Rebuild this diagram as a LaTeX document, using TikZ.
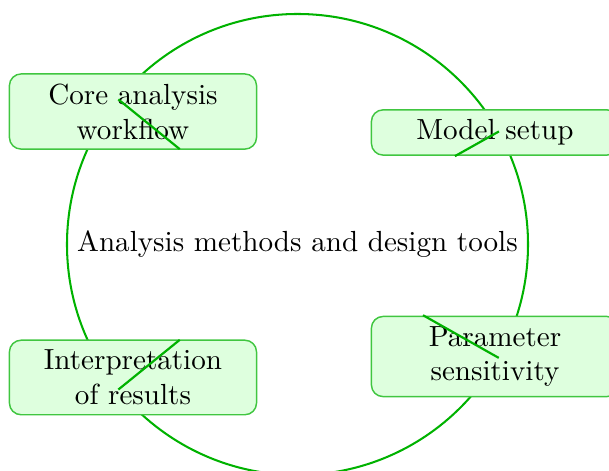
\documentclass[tikz,border=0pt]{standalone}
\begin{document}
\begin{tikzpicture}[
  ring/.style={line width=0.7pt,color=green!70!black},
  stage/.style={draw=green!70!black!75,fill=green!13,rounded corners=4pt,line width=0.5pt,text width=2.75cm,align=center},
  spoke/.style={line width=0.75pt,color=green!70!black}]
\useasboundingbox (-3.593,-2.735) rectangle (3.762,2.953);
\draw [ring] (0,0) circle (2.784);
\node (hub) at (0,0) {Analysis methods and design tools};
\node [stage] (core) at (-1.987,1.606) {Core analysis workflow};
\node [stage] (setup) at (2.385,1.353) {Model setup};
\node [stage] (sens) at (2.385,-1.353) {Parameter sensitivity};
\node [stage] (interp) at (-1.987,-1.606) {Interpretation of results};
% spokes from the ring inwards
\coordinate (rcore) at (141:2.784);
\coordinate (icore) at (141:1.83);
\coordinate (rsetup) at (29.3:2.79);
\coordinate (isetup) at (29.3:2.18);
\coordinate (rsens) at (-29.4:2.79);
\coordinate (isens) at (-29.4:1.74);
\coordinate (rinterp) at (-141:2.784);
\coordinate (iinterp) at (-141:1.83);
\draw [spoke] (rcore) -- (icore);
\draw [spoke] (rsetup) -- (isetup);
\draw [spoke] (rsens) -- (isens);
\draw [spoke] (rinterp) -- (iinterp);
\end{tikzpicture}
\end{document}
